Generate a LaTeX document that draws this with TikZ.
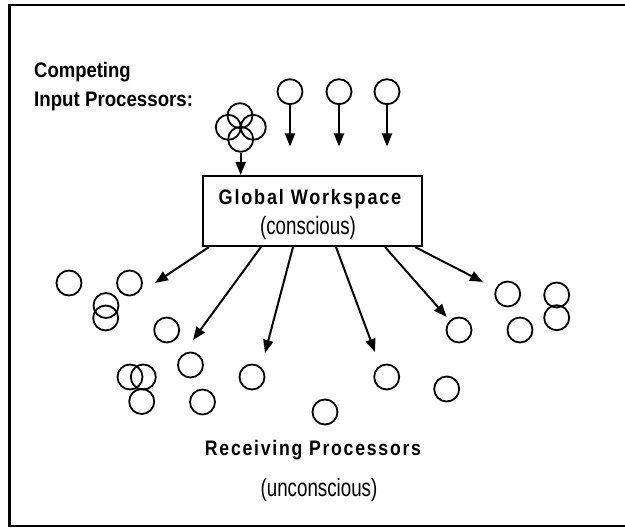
\documentclass[tikz,border=0pt]{standalone}
\usepackage{fontspec}
\setmainfont{Liberation Sans}
\newfontfamily\spacedfont[LetterSpace=10]{Liberation Sans}
\usetikzlibrary{arrows.meta}
\newcommand{\narrowtext}[2]{\scalebox{#1}[1]{#2}}

\begin{document}
\begin{tikzpicture}[x=1pt,y=-1pt,>={Triangle[length=13pt,width=10pt]},
  arr/.style={->,line width=2pt},
  proc node/.style={circle,draw,line width=1.8pt,minimum size=25pt,inner sep=0pt},
  head text/.style={font=\spacedfont\bfseries\fontsize{21}{23}\selectfont,inner sep=0pt},
  side text/.style={font=\bfseries\fontsize{21}{23}\selectfont,inner sep=0pt,anchor=west},
  note text/.style={font=\fontsize{25}{27}\selectfont,inner sep=0pt}]

  \useasboundingbox (0,0) rectangle (625,529);
  \draw[line width=2.5pt] (625,5) -- (9.5,5) -- (9.5,526) -- (625,526);

  % input side
  \node[side text] (comp) at (34,72) {\narrowtext{0.88}{Competing}};
  \node[side text] (inp) at (34,101) {\narrowtext{0.89}{Input Processors:}};

  \node[proc node] (c1) at (240,115.7) {};
  \node[proc node] (c2) at (228.3,127.3) {};
  \node[proc node] (c3) at (253.3,127.3) {};
  \node[proc node] (c4) at (240.7,139.3) {};

  \node[proc node] (i1) at (290,91.7) {};
  \node[proc node] (i2) at (339,91.7) {};
  \node[proc node] (i3) at (387,91.7) {};
  \coordinate (i1t) at (290,146.5);
  \coordinate (i2t) at (339,146.5);
  \coordinate (i3t) at (387,146.5);

  % workspace
  \node[draw,line width=2pt,minimum width=219pt,minimum height=70pt] (wsp) at (312.5,211) {};
  \node[head text] (wsname) at (310,199) {\narrowtext{0.86}{Global Workspace}};
  \node[note text] (wsnote) at (308,228) {\narrowtext{0.75}{(conscious)}};

  % receiving side
  \node[proc node] (r1) at (69,283) {};
  \node[proc node] (r2) at (129.5,283) {};
  \node[proc node] (r3) at (106,305.5) {};
  \node[proc node] (r4) at (105.7,318) {};
  \node[proc node] (r5) at (166.7,330) {};
  \node[proc node] (r6) at (190.5,365) {};
  \node[proc node] (r7) at (143.3,377) {};
  \node[proc node] (r8) at (130,377) {};
  \node[proc node] (r9) at (141.7,401.5) {};
  \node[proc node] (r10) at (202.5,402) {};
  \node[proc node] (r11) at (252,377) {};
  \node[proc node] (r12) at (325,412) {};
  \node[proc node] (r13) at (386.7,377) {};
  \node[proc node] (r14) at (446.7,389) {};
  \node[proc node] (r15) at (459,330) {};
  \node[proc node] (r16) at (507.7,294) {};
  \node[proc node] (r17) at (520,330) {};
  \node[proc node] (r18) at (556.7,295) {};
  \node[proc node] (r19) at (556.7,317.7) {};

  \coordinate (t1) at (155,283);
  \coordinate (t2) at (193,340);
  \coordinate (t3) at (265,353);
  \coordinate (t4) at (375,352);
  \coordinate (t5) at (446.7,317);
  \coordinate (t6) at (483,282);

  \node[head text] (recv) at (313,450.5) {\narrowtext{0.84}{Receiving Processors}};
  \node[note text] (recvnote) at (319,490) {\narrowtext{0.75}{(unconscious)}};

  % arrows
  \draw[arr] (c4) -- (c4 |- wsp.north);
  \draw[arr] (i1) -- (i1t);
  \draw[arr] (i2) -- (i2t);
  \draw[arr] (i3) -- (i3t);

  \draw[arr] (wsp.south west) ++(7,0) -- (t1);
  \draw[arr] (wsp.south west) ++(59,0) -- (t2);
  \draw[arr] (wsp.south west) ++(91,0) -- (t3);
  \draw[arr] (wsp.south west) ++(134,0) -- (t4);
  \draw[arr] (wsp.south west) ++(183,0) -- (t5);
  \draw[arr] (wsp.south west) ++(213,0) -- (t6);

\end{tikzpicture}
\end{document}
